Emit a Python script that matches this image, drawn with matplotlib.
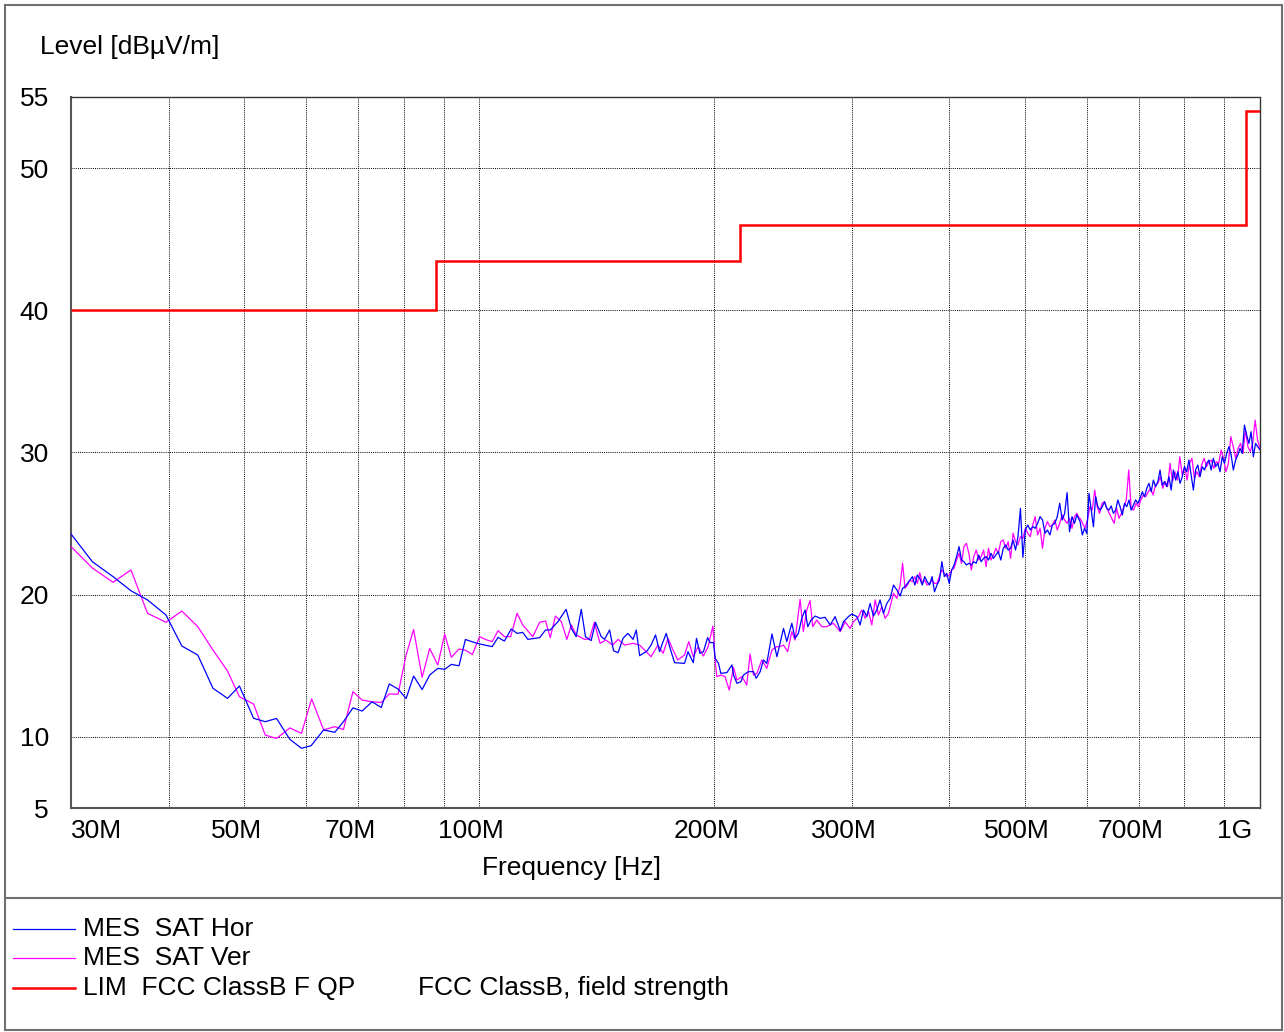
import numpy as np
import matplotlib
matplotlib.use("Agg")
import matplotlib.pyplot as plt
from matplotlib.patches import Rectangle
from matplotlib.lines import Line2D
import matplotlib.transforms as mtransforms

plt.rcParams['font.family'] = ['Liberation Sans', 'DejaVu Sans']

# ---------------- data (MHz / dBuV/m) ----------------
# Horizontal polarisation, explicit sweep points 30 MHz .. 343 MHz
hor_freq_lo = [30, 31.95, 33.96, 35.8, 37.6, 39.7, 41.6, 43.6, 45.6, 47.6, 49.3, 51.4, 53.2, 55.0,
               57.2, 59.2, 60.9, 63.2, 65.3, 67.0, 68.9, 70.8, 72.9, 74.9, 76.7, 78.7, 80.6, 82.4,
               84.5, 86.4, 88.5, 90.3, 92.1, 94.2, 96.0, 99.1,
               100.6, 103.9, 105.7, 107.7, 109.9, 111.8, 113.7, 115.4, 119.5, 121.6, 123.3, 126.1,
               129.2, 131.2, 133.1, 135.1, 136.8, 139.1, 140.9, 143.3, 144.7, 146.9, 148.6, 150.6,
               152.8, 155.0, 157.4, 158.9, 160.5, 164.0, 166.0, 168.2, 170.2, 171.5, 173.6, 175.3,
               177.9, 183.2, 185.1, 188.0, 189.8, 191.7, 193.7, 196.1, 197.6, 199.6,
               200.5, 202.5, 203.9, 207.6, 210.7, 211.7, 213.8, 216.3, 218.0, 221.2, 224.5, 226.3,
               229.0, 231.2, 233.5, 237.1, 240.6, 245.3, 247.7, 251.4, 253.8, 256.3, 258.9, 261.4,
               263.5, 266.1, 269.3, 273.3, 277.3, 281.5, 285.6, 290.0, 292.8, 297.1, 300.1, 304.6,
               307.5, 310.5, 313.6, 316.7, 319.8, 323.0, 326.1, 329.4, 332.7, 336.0, 339.3, 342.7]
hor_level_lo = [24.27, 22.32, 21.27, 20.28, 19.63, 18.57, 16.39, 15.76, 13.42, 12.71, 13.58, 11.31, 11.07, 11.3,
                9.83, 9.2, 9.38, 10.49, 10.32, 11.07, 12.04, 11.82, 12.47, 12.07, 13.72, 13.37, 12.70, 14.28,
                13.33, 14.35, 14.82, 14.75, 15.1, 15.0, 16.85, 16.6,
                16.51, 16.35, 17.0, 16.74, 17.59, 17.28, 17.35, 16.86, 16.98, 17.52, 17.52, 18.1,
                18.97, 17.63, 17.05, 18.97, 17.05, 16.77, 18.06, 17.05, 16.86, 17.52, 16.06, 15.92,
                16.93, 17.28, 16.86, 17.52, 15.71, 16.04, 16.46, 17.17, 15.99, 16.53, 17.28, 16.35,
                15.22, 15.17, 15.99, 15.22, 16.93, 15.88, 15.99, 16.98, 16.63, 16.63,
                15.53, 15.17, 14.47, 14.52, 15.06, 14.35, 13.77, 13.88, 14.35, 14.59, 14.59, 14.12,
                14.59, 15.41, 15.17, 17.24, 15.64, 17.63, 16.7, 17.99, 16.93, 17.28, 18.34, 18.92,
                17.75, 18.22, 18.5, 18.34, 18.41, 17.87, 18.46, 17.47, 18.1, 18.46, 18.64, 18.46,
                17.87, 18.92, 18.46, 19.39, 18.5, 18.92, 19.63, 18.69, 19.39, 19.74, 20.68, 20.33]
# Horizontal, dense sweep 346 .. 587 MHz and 588 .. 1000 MHz (equal log spacing)
hor_level_mid = [19.91, 20.45, 20.57, 20.80, 21.03, 21.27, 20.68, 21.39, 21.15, 20.68,
                 21.27, 20.92, 20.68, 21.27, 20.21, 20.68, 21.03, 22.32, 21.27, 21.5,
                 20.8, 21.74, 22.09, 22.68, 23.38, 22.44, 22.32, 22.09, 22.21, 22.09,
                 22.32, 22.21, 22.79, 22.32, 22.56, 22.68, 22.44, 22.91, 22.56, 22.79,
                 23.03, 22.44, 23.26, 23.5, 23.14, 23.26, 23.85, 23.14, 24.08, 26.07,
                 22.63, 24.55, 24.9, 24.55, 24.79, 24.67, 25.02, 25.49, 25.25, 24.32,
                 24.55, 24.2, 24.9, 25.02, 25.49, 26.43, 25.25, 25.72, 27.18, 24.43,
                 25.49, 25.02, 25.61, 25.25]
hor_level_hi = [25.13, 24.20, 24.67, 24.31, 27.13, 25.95, 24.78, 26.89, 26.19, 25.95,
                26.19, 26.54, 26.07, 25.95, 26.24, 25.72, 25.95, 26.66, 26.19, 25.6,
                26.42, 26.19, 26.66, 25.95, 26.31, 26.66, 26.42, 26.78, 27.24, 26.89,
                27.48, 27.83, 27.24, 28.06, 27.6, 27.95, 28.77, 27.71, 27.95, 27.6,
                28.3, 27.36, 28.77, 28.06, 28.65, 27.83, 28.3, 29.0, 28.65, 29.47,
                28.42, 27.36, 28.77, 29.12, 28.3, 29.0, 28.77, 29.24, 29.47, 28.77,
                29.59, 29.0, 29.24, 28.65, 29.7, 29.24, 29.94, 30.41, 29.82, 28.77,
                29.47, 29.82, 30.29, 29.94, 31.93, 31.23, 30.64, 31.46, 29.7, 30.64,
                30.41, 30.17]

# Vertical polarisation
ver_freq_lo = [30, 31.95, 33.96, 35.8, 37.6, 39.7, 41.6, 43.6, 45.6, 47.6, 49.3, 51.4, 53.2, 55.0,
               57.2, 59.2, 61.0, 63.2, 65.3, 67.0, 68.9, 70.8, 72.9, 74.9, 76.7, 78.7, 80.6, 82.4,
               84.5, 86.4, 88.5, 90.3, 92.1, 94.2, 96.0, 98.0,
               100.1, 102.3, 103.9, 105.7, 107.7, 109.7, 111.8, 113.7, 117.1, 119.5, 121.6, 123.3,
               125.2, 127.4, 129.5, 131.2, 133.1, 136.4, 138.4, 140.4, 142.8, 145.3, 148.2, 150.6,
               153.5, 157.4, 160.5, 163.6, 166.0, 169.4, 172.0, 174.5, 177.1, 179.6, 183.2, 185.5,
               188.0, 190.7, 193.7, 196.4, 199.2,
               200.5, 201.5, 203.9, 206.4, 209.0, 211.7, 213.8, 217.0, 220.1, 222.3, 224.5, 226.8,
               230.1, 233.5, 237.1, 240.6, 243.0, 245.3, 248.3, 251.4, 253.8, 257.6, 260.1, 262.7,
               265.3, 267.4, 270.6, 274.6, 278.6, 284.2, 290.0, 294.2, 298.5, 301.5, 306.1, 309.0,
               312.1, 315.2, 318.3, 321.4, 324.6, 327.8, 331.0, 334.3, 339.3, 342.7]
ver_level_lo = [23.38, 21.88, 20.87, 21.74, 18.69, 18.06, 18.85, 17.75, 16.11, 14.63, 12.83, 12.31, 10.13, 9.89,
                10.63, 10.25, 12.67, 10.49, 10.72, 10.52, 13.18, 12.59, 12.47, 12.42, 13.02, 13.0, 15.76, 17.55,
                14.19, 16.22, 15.06, 17.24, 15.6, 16.18, 16.1, 15.8,
                17.05, 16.81, 16.7, 17.47, 17.05, 17.05, 18.69, 17.87, 17.05, 18.06, 18.15, 16.98,
                18.5, 18.1, 16.86, 17.87, 17.17, 16.86, 16.88, 18.06, 16.58, 16.81, 16.46, 16.86,
                16.46, 16.58, 16.46, 15.99, 15.64, 16.46, 15.88, 16.93, 16.11, 15.41, 15.76, 16.70,
                15.64, 16.35, 15.69, 16.35, 17.8,
                15.4, 14.24, 14.35, 14.24, 13.3, 14.89, 14.0, 14.24, 13.65, 15.83, 14.35, 14.47,
                15.41, 14.82, 16.11, 16.35, 16.35, 16.46, 15.99, 17.4, 16.81, 19.67, 17.4, 18.92,
                19.58, 17.75, 18.22, 17.75, 17.75, 17.99, 17.4, 18.1, 17.63, 18.1, 18.46, 18.92,
                18.34, 18.81, 17.87, 19.63, 18.57, 19.16, 18.34, 18.69, 20.1, 19.74]
ver_level_mid = [20.68, 22.21, 20.45, 20.68, 21.03, 20.92, 21.27, 20.80, 21.55, 20.80,
                 21.03, 20.68, 20.80, 21.03, 20.80, 20.80, 21.27, 21.74, 21.5, 21.27,
                 21.39, 21.74, 21.86, 22.44, 22.91, 22.21, 23.38, 23.61, 22.91, 21.74,
                 22.68, 23.14, 22.44, 22.68, 23.14, 21.97, 23.26, 22.44, 22.79, 23.26,
                 22.91, 23.73, 23.85, 23.26, 23.73, 22.56, 24.32, 23.73, 23.5, 24.08,
                 23.96, 24.67, 24.32, 24.08, 24.9, 25.49, 24.2, 24.67, 23.26, 24.67,
                 25.14, 24.79, 24.9, 25.25, 24.55, 25.02, 25.61, 25.25, 25.02, 25.37,
                 24.67, 25.49, 25.72, 25.37]
ver_level_hi = [25.37, 25.02, 24.67, 25.25, 26.19, 25.95, 27.36, 26.19, 25.72, 26.42,
                26.54, 26.07, 25.72, 25.37, 25.02, 26.07, 25.37, 25.72, 26.19, 26.66,
                28.77, 26.07, 25.95, 26.42, 26.19, 26.66, 27.01, 26.89, 27.24, 27.48,
                27.01, 27.71, 27.83, 28.3, 27.48, 27.95, 27.6, 29.24, 27.95, 28.65,
                28.06, 29.7, 28.42, 29.0, 28.06, 29.24, 29.59, 28.18, 28.65, 28.3,
                29.12, 29.59, 29.0, 29.35, 29.47, 28.88, 29.35, 29.24, 30.17, 29.59,
                28.65, 29.24, 31.11, 30.41, 29.59, 30.29, 30.64, 29.94, 31.58, 30.41,
                30.06, 30.64, 32.28, 30.88, 30.29]

# dense-sweep segment limits (MHz)
mid_start, mid_stop = 346.0, 587.0
hi_start, hi_stop = 588.3, 1000.0

# FCC Class B limit (field strength, QP)
limit_edges = [30, 88, 216, 960, 1000]
limit_levels = [40, 43.5, 46, 54]

# axis ticks
x_ticks = [30, 40, 50, 60, 70, 80, 90, 100, 200, 300, 400, 500, 600, 700, 800, 900, 1000]
x_labels = ['30M', '', '50M', '', '70M', '', '', '100M', '200M', '300M', '', '500M', '', '700M', '', '', '1G']
y_ticks = [5, 10, 20, 30, 40, 50, 55]

legend_names = ['MES  SAT Hor', 'MES  SAT Ver', 'LIM  FCC ClassB F QP']
legend_extra = 'FCC ClassB, field strength'


def build(freq_lo, lvl_lo, lvl_mid, lvl_hi):
    f = np.concatenate([np.array(freq_lo),
                        np.geomspace(mid_start, mid_stop, len(lvl_mid)),
                        np.geomspace(hi_start, hi_stop, len(lvl_hi))]) * 1e6
    l = np.concatenate([lvl_lo, lvl_mid, lvl_hi])
    return f, l


hor_f, hor_l = build(hor_freq_lo, hor_level_lo, hor_level_mid, hor_level_hi)
ver_f, ver_l = build(ver_freq_lo, ver_level_lo, ver_level_mid, ver_level_hi)

# ---------------- figure ----------------
W, H = 1284, 1032
fig = plt.figure(figsize=(W / 100, H / 100), dpi=100)
fig.patch.set_facecolor('white')


def fx(px):
    return px / W


def fy(py):
    return 1 - py / H


ax = fig.add_axes([fx(71), fy(808), fx(1260) - fx(71), fy(97) - fy(808)])

BLUE = '#0000ff'
MAG = '#ff00ff'
RED = '#ff0000'

ax.plot(ver_f, ver_l, color=MAG, lw=0.9, zorder=3)
ax.plot(hor_f, hor_l, color=BLUE, lw=0.9, zorder=4)
ax.stairs(limit_levels, np.array(limit_edges) * 1e6, baseline=None, color=RED, lw=1.8, zorder=5)

ax.set_xscale('log')
ax.set_xlim(30e6, 1000e6)
ax.set_ylim(5, 55)
ax.set_xticks(np.array(x_ticks) * 1e6)
ax.set_xticklabels(x_labels)
ax.xaxis.set_minor_locator(matplotlib.ticker.NullLocator())
ax.set_yticks(y_ticks)
ax.set_yticklabels([str(v) for v in y_ticks])
ax.tick_params(axis='both', length=0, labelsize=19)
ax.tick_params(axis='x', pad=8)
ax.tick_params(axis='y', pad=16)

ax.grid(True, which='major', color='black', linestyle=(0, (1, 1.2)), lw=0.7)

for s in ['left', 'bottom']:
    ax.spines[s].set_color('#555555')
    ax.spines[s].set_linewidth(1.5)
for s in ['top', 'right']:
    ax.spines[s].set_color('#333333')
    ax.spines[s].set_linewidth(1.0)
    ax.spines[s].set_linestyle((0, (1, 1)))

# shift tick labels slightly left like the reference
shift = mtransforms.ScaledTranslation(-8 / 100, 0, fig.dpi_scale_trans)
labels = ax.get_xticklabels()
for lab in labels:
    lab.set_transform(lab.get_transform() + shift)
labels[0].set_horizontalalignment('left')
labels[0].set_transform(labels[0].get_transform() + mtransforms.ScaledTranslation(8 / 100, 0, fig.dpi_scale_trans))
labels[-1].set_horizontalalignment('right')

# axis titles
fig.text(fx(40), fy(47), 'Level [dBµV/m]', fontsize=19, ha='left', va='center')
fig.text(fx(572), fy(868), 'Frequency [Hz]', fontsize=19, ha='center', va='center')

# outer frame and separator
fig.add_artist(Rectangle((fx(5), fy(1030)), fx(1282) - fx(5), fy(5) - fy(1030),
                         transform=fig.transFigure, fill=False, edgecolor='#707070', lw=1.5))
fig.add_artist(Line2D([fx(5), fx(1282)], [fy(898), fy(898)], transform=fig.transFigure,
                      color='#707070', lw=1.5))

# legend block
leg_y = [929, 958, 988]
leg_cols = [BLUE, MAG, RED]
leg_lw = [0.9, 0.9, 1.8]
for y, c, lw, name in zip(leg_y, leg_cols, leg_lw, legend_names):
    fig.add_artist(Line2D([fx(13), fx(75)], [fy(y), fy(y)], transform=fig.transFigure, color=c, lw=lw))
    fig.text(fx(83), fy(y), name, fontsize=19, ha='left', va='center')
fig.text(fx(418), fy(leg_y[2]), legend_extra, fontsize=19, ha='left', va='center')

fig.savefig('out.png', dpi=100)
